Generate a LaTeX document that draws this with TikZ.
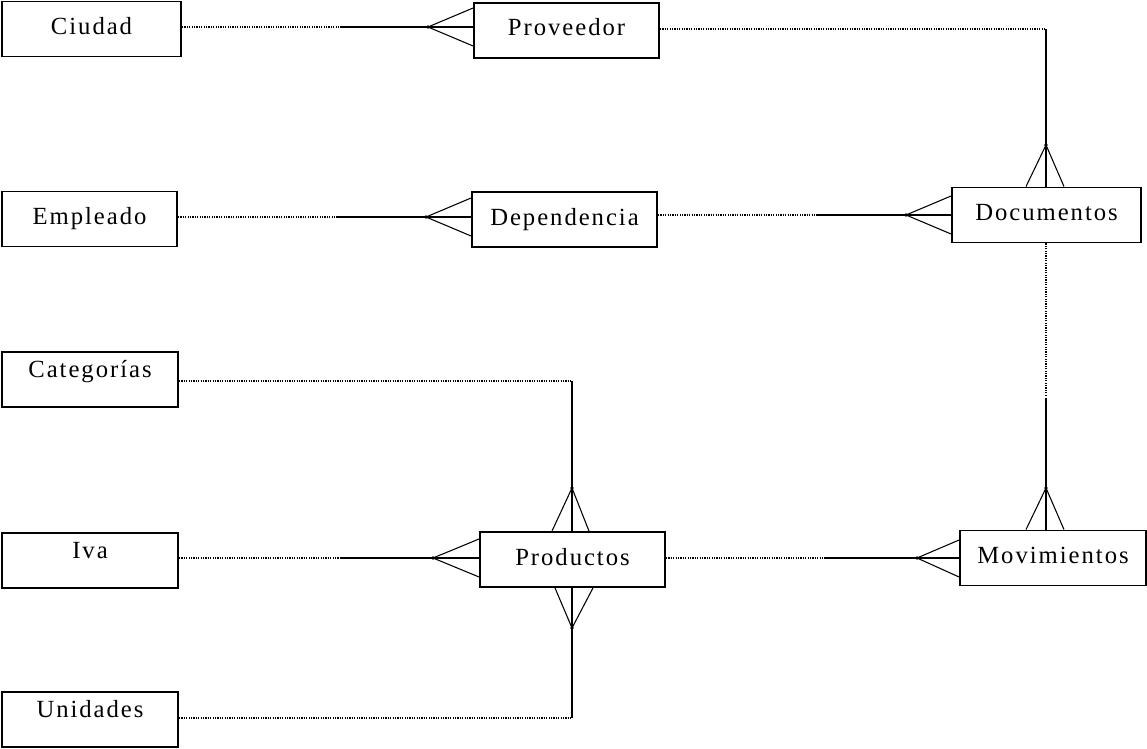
\documentclass[tikz,border=0pt]{standalone}
\usepackage{fontspec}
\setmainfont{Liberation Serif}[LetterSpace=8]
\usetikzlibrary{calc}
\tikzset{
  ent/.style={draw, line width=1.4pt, inner xsep=0pt, inner ysep=0pt, minimum height=0pt,
    font=\fontsize{18.5pt}{20pt}\selectfont},
  cbox/.style={ent, text height=24.75pt, text depth=16.5pt},
  tbox/.style={ent, text height=18.75pt, text depth=22.5pt},
  dotline/.style={line width=0.8pt, dash pattern=on 0.9pt off 0.9pt},
  solidline/.style={line width=1.1pt},
  fork/.style={line width=0.8pt},
}
\newcommand{\crowfoot}[3]{%
  \draw[fork] (#2) -- (#1) -- (#3);
  \fill (#1) circle (1.4pt);}
\begin{document}
\begin{tikzpicture}[x=0.75pt,y=-0.75pt]
\useasboundingbox (0,0) rectangle (1147,749);
\fill[white] (0,0) rectangle (1147,749);

% entities
\node[cbox, minimum width=134.25pt] (ciudad) at (91.5,29) {Ciudad};
\node[cbox, minimum width=138.75pt] (proveedor) at (566.5,30.5) {Proveedor};
\node[cbox, minimum width=131.25pt] (empleado) at (89.5,219) {Empleado};
\node[cbox, minimum width=138.75pt] (dependencia) at (564.5,219.5) {Dependencia};
\node[cbox, minimum width=141.75pt] (documentos) at (1046.5,215) {Documentos};
\node[tbox, minimum width=132pt] (categorias) at (90,379.5) {Categorías};
\node[tbox, minimum width=132pt] (iva) at (90,560.5) {Iva};
\node[cbox, minimum width=138.75pt] (productos) at (572.5,559.5) {Productos};
\node[cbox, minimum width=139.5pt] (movimientos) at (1053,558) {Movimientos};
\node[tbox, minimum width=132pt] (unidades) at (90,719.5) {Unidades};

% break points and apices
\coordinate (r1) at (0,27);
\coordinate (b1) at (340,27);
\coordinate (a1) at (428,27);
\coordinate (r3) at (0,217);
\coordinate (b3) at (338,217);
\coordinate (a3) at (426,217);
\coordinate (r4) at (0,215);
\coordinate (b4) at (818,215);
\coordinate (a4) at (906,215);
\coordinate (r7) at (0,558);
\coordinate (b7) at (340,558);
\coordinate (a7) at (433,558);
\coordinate (b8) at (826,558);
\coordinate (a8) at (917,558);
\coordinate (k2) at (1046,29);
\coordinate (a2) at (1046,145);
\coordinate (b5) at (1046,396);
\coordinate (a5) at (1046,488);
\coordinate (k6) at (572,381);
\coordinate (a6) at (572,488);
\coordinate (k9) at (572,718);
\coordinate (a9) at (572,628);

% Ciudad - Proveedor
\draw[dotline] (ciudad.east |- r1) -- (b1);
\draw[solidline] (b1) -- (proveedor.west |- r1);
\crowfoot{a1}{$(proveedor.west |- r1)+(0,-19)$}{$(proveedor.west |- r1)+(0,19)$}

% Proveedor - Documentos
\draw[dotline] (proveedor.east |- k2) -- (k2);
\draw[solidline] (k2) -- (documentos.north -| k2);
\crowfoot{a2}{$(documentos.north -| k2)+(-20,0)$}{$(documentos.north -| k2)+(18,0)$}

% Empleado - Dependencia
\draw[dotline] (empleado.east |- r3) -- (b3);
\draw[solidline] (b3) -- (dependencia.west |- r3);
\crowfoot{a3}{$(dependencia.west |- r3)+(0,-19)$}{$(dependencia.west |- r3)+(0,19)$}

% Dependencia - Documentos
\draw[dotline] (dependencia.east |- r4) -- (b4);
\draw[solidline] (b4) -- (documentos.west |- r4);
\crowfoot{a4}{$(documentos.west |- r4)+(0,-19)$}{$(documentos.west |- r4)+(0,19)$}

% Documentos - Movimientos
\draw[dotline] (documentos.south -| b5) -- (b5);
\draw[solidline] ($(b5)+(0,2)$) -- (movimientos.north -| b5);
\crowfoot{a5}{$(movimientos.north -| b5)+(-20,0)$}{$(movimientos.north -| b5)+(18,0)$}

% Categorias - Productos
\draw[dotline] (categorias.east |- k6) -- (k6);
\draw[solidline] (k6) -- (productos.north -| k6);
\crowfoot{a6}{$(productos.north -| k6)+(-20,0)$}{$(productos.north -| k6)+(17,0)$}

% Iva - Productos
\draw[dotline] (iva.east |- r7) -- (b7);
\draw[solidline] (b7) -- (productos.west |- r7);
\crowfoot{a7}{$(productos.west |- r7)+(0,-19)$}{$(productos.west |- r7)+(0,19)$}

% Productos - Movimientos
\draw[dotline] (productos.east |- r7) -- (b8);
\draw[solidline] (b8) -- (movimientos.west |- r7);
\crowfoot{a8}{$(movimientos.west |- r7)+(0,-18)$}{$(movimientos.west |- r7)+(0,19)$}

% Unidades - Productos
\draw[dotline] (unidades.east |- k9) -- (k9);
\draw[solidline] (k9) -- (productos.south -| k9);
\crowfoot{a9}{$(productos.south -| k9)+(-17,0)$}{$(productos.south -| k9)+(21,0)$}
\end{tikzpicture}
\end{document}
